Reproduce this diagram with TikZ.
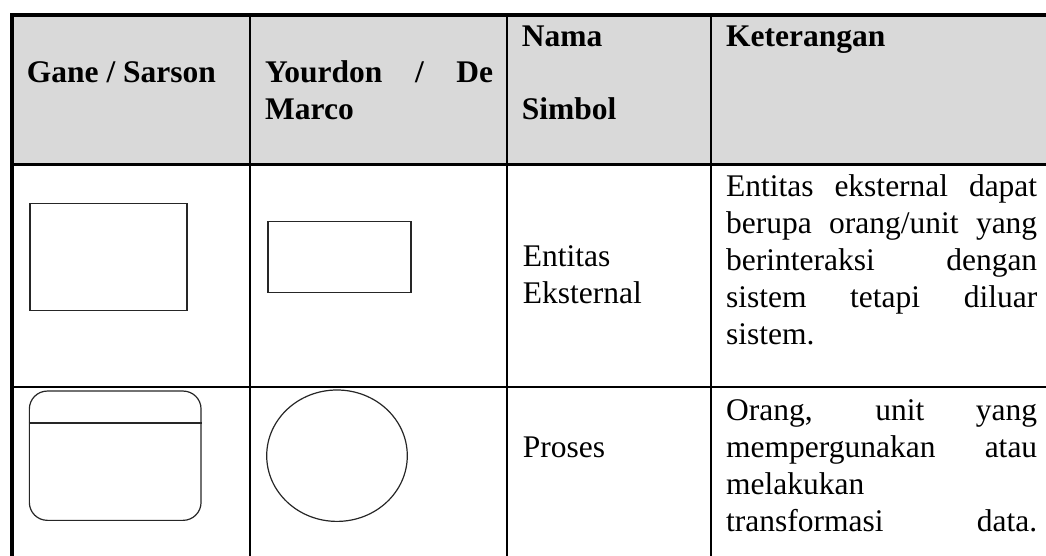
\documentclass[tikz,border=0pt]{standalone}
\usepackage{fontspec}
\setmainfont{Liberation Serif}
\usetikzlibrary{shapes.geometric}
\definecolor{hdrfill}{HTML}{D9D9D9}
\begin{document}
\begin{tikzpicture}[x=1pt,y=-1pt,
  txt/.style={anchor=base west,inner sep=0pt,font=\fontsize{31.5pt}{37pt}\selectfont},
  hdr/.style={anchor=base west,inner sep=0pt,font=\fontsize{31.5pt}{37pt}\selectfont\bfseries},
  gridline/.style={line width=2.4pt,black},
  frameline/.style={line width=4pt,black},
  sym/.style={draw=black!85,line width=1.2pt,inner sep=0pt}]
\useasboundingbox (0,0) rectangle (1046,556);
% header background
\fill[hdrfill] (12,15) rectangle (1046,164.7);
% grid
\draw[gridline] (250.2,15) -- (250.2,556);
\draw[gridline] (507,15) -- (507,556);
\draw[gridline] (710.7,15) -- (710.7,556);
\draw[gridline] (12,164.7) -- (1046,164.7);
\draw[gridline] (12,386.8) -- (1046,386.8);
\draw[frameline] (12.2,556) -- (12.2,14.7) -- (1046,14.7);
% header texts
\node[hdr] (h1) at (26.7,83) {Gane / Sarson};
\node[hdr] (h2a) at (265,83) {\makebox[228pt][s]{Yourdon / De}};
\node[hdr] (h2b) at (265,119.5) {Marco};
\node[hdr] (h3a) at (521.7,46.7) {Nama};
\node[hdr] (h3b) at (521.7,120) {Simbol};
\node[hdr] (h4) at (726,46.7) {Keterangan};
% row 1
\node[sym,rectangle,minimum width=157pt,minimum height=107.4pt] (gs1) at (108.5,257) {};
\node[sym,rectangle,minimum width=143pt,minimum height=70.6pt] (yd1) at (339.5,257) {};
\node[txt] (n1a) at (522.7,266) {Entitas};
\node[txt] (n1b) at (522.7,303) {Eksternal};
\node[txt] (d1a) at (726,196.5) {\makebox[311pt][s]{Entitas eksternal dapat}};
\node[txt] (d1b) at (726,233.5) {\makebox[311pt][s]{berupa orang/unit yang}};
\node[txt] (d1c) at (726,270.5) {\makebox[311pt][s]{berinteraksi dengan}};
\node[txt] (d1d) at (726,307.5) {\makebox[311pt][s]{sistem tetapi diluar}};
\node[txt] (d1e) at (726,344.5) {sistem.};
% row 2
\node[sym,rectangle,rounded corners=18pt,minimum width=171.7pt,minimum height=129.3pt] (gs2) at (115.2,455.7) {};
\draw[draw=black!85,line width=1.2pt] ([yshift=-32.5pt]gs2.north west) -- ([yshift=-32.5pt]gs2.north east);
\node[sym,ellipse,minimum width=140.6pt,minimum height=131.4pt] (yd2) at (337,455.7) {};
\node[txt] (n2) at (522.7,457) {Proses};
\node[txt] (d2a) at (726,420) {\makebox[311pt][s]{Orang, unit yang}};
\node[txt] (d2b) at (726,457) {\makebox[311pt][s]{mempergunakan atau}};
\node[txt] (d2c) at (726,494) {melakukan};
\node[txt] (d2d) at (726,531) {\makebox[311pt][s]{transformasi data.}};
\end{tikzpicture}
\end{document}
